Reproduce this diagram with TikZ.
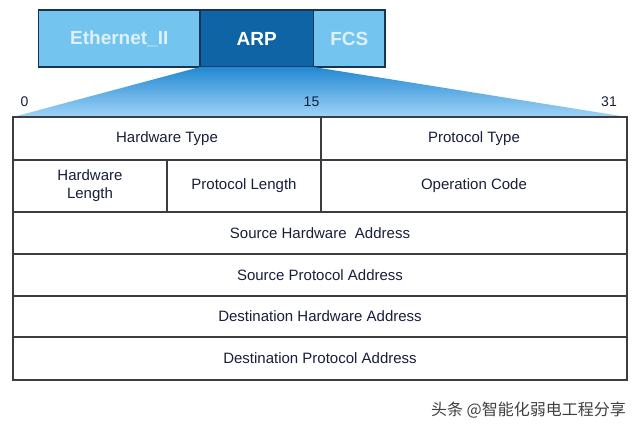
\documentclass[tikz,border=0pt]{standalone}
\usepackage{fontspec}
\setmainfont{Liberation Sans}
\newfontfamily\cjk{Noto Sans CJK SC}
\definecolor{lightblue}{RGB}{116,196,240}
\definecolor{darkblue}{RGB}{14,100,164}
\definecolor{boxborder}{RGB}{24,52,84}
\definecolor{fantop}{RGB}{34,136,210}
\definecolor{fanbottom}{RGB}{160,212,248}
\definecolor{navytext}{RGB}{24,30,60}
\definecolor{lighttext}{RGB}{222,240,250}
\definecolor{gridline}{RGB}{60,60,66}
\tikzset{
  topbox/.style={draw=boxborder, line width=1.2bp, inner sep=0pt, outer sep=0pt, anchor=north west,
    font=\fontsize{19bp}{21bp}\selectfont\bfseries},
  cellbox/.style={draw=gridline, line width=1.1bp, inner sep=0pt, outer sep=0pt, anchor=north west,
    text=navytext, align=center, font=\fontsize{15bp}{18bp}\selectfont},
  bitlabel/.style={text=navytext, font=\fontsize{14bp}{16bp}\selectfont, inner sep=0pt}
}
\newcommand{\cellnode}[6]{%
  \pgfmathsetmacro{\cw}{#4-#2}\pgfmathsetmacro{\ch}{#5-#3}%
  \node[cellbox, minimum width=\cw bp, minimum height=\ch bp] (#1) at (#2,#3) {#6};}
\begin{document}
\begin{tikzpicture}[x=1bp, y=-1bp]
\useasboundingbox (0,0) rectangle (640,435);
\fill[white] (0,0) rectangle (640,435);
% top frame boxes
\node[topbox, fill=lightblue, text=lighttext, minimum width=161.5bp, minimum height=57bp] (eth) at (38.5,10) {Ethernet\_II};
\node[topbox, fill=darkblue, text=white, minimum width=113.5bp, minimum height=57bp] (arp) at (200,10) {ARP};
\node[topbox, fill=lightblue, text=lighttext, minimum width=71.5bp, minimum height=57bp] (fcs) at (313.5,10) {FCS};
% table coordinates for the fan
\coordinate (tl) at (13,117);
\coordinate (tr) at (627,117);
\shade[top color=fantop, bottom color=fanbottom] (arp.south west) -- (arp.south east) -- (tr) -- (tl) -- cycle;
% table
\cellnode{ht}{13}{117}{321}{160}{Hardware Type}
\cellnode{pt}{321}{117}{627}{160}{Protocol Type}
\cellnode{hl}{13}{160}{167}{212}{Hardware\\Length}
\cellnode{pl}{167}{160}{321}{212}{Protocol Length}
\cellnode{oc}{321}{160}{627}{212}{Operation Code}
\cellnode{sha}{13}{212}{627}{254}{Source Hardware\ \ Address}
\cellnode{spa}{13}{254}{627}{296}{Source Protocol Address}
\cellnode{dha}{13}{296}{627}{337}{Destination Hardware Address}
\cellnode{dpa}{13}{337}{627}{380}{Destination Protocol Address}
% bit labels
\node[bitlabel] (b0) at (24.5,102) {0};
\node[bitlabel] (b15) at (311.5,102) {15};
\node[bitlabel] (b31) at (609,102) {31};
% watermark
\node[anchor=east, inner sep=0pt, text={rgb,255:red,64;green,64;blue,64}, font=\cjk\fontsize{16bp}{18bp}\selectfont] (wm) at (626,410) {头条 @智能化弱电工程分享};
\end{tikzpicture}
\end{document}
